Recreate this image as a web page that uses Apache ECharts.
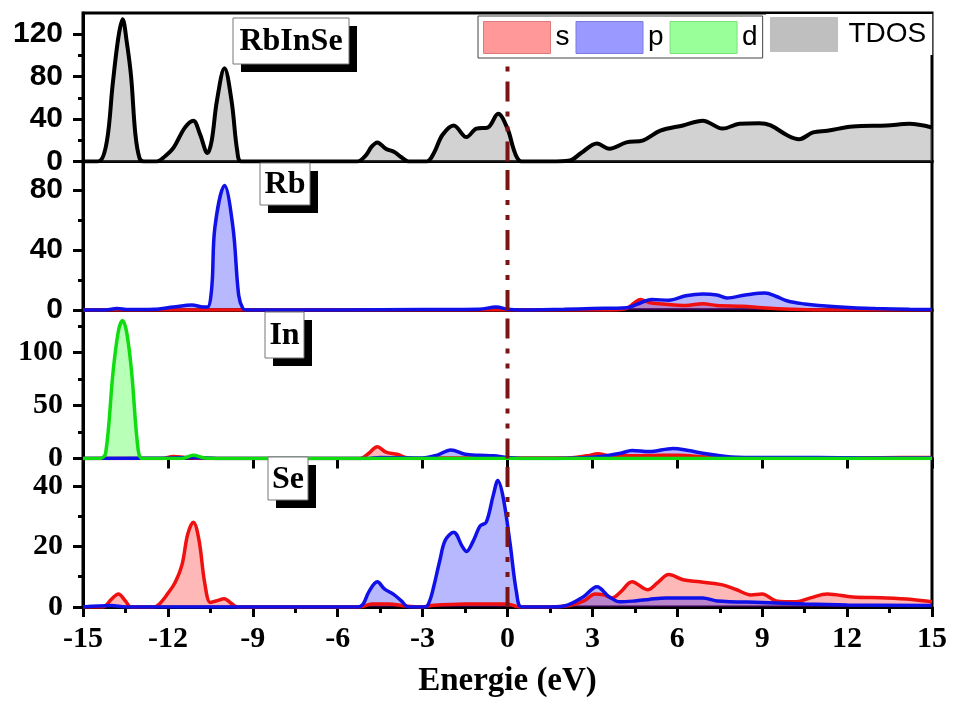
<!DOCTYPE html>
<html>
<head>
<meta charset="utf-8">
<script src="https://cdn.jsdelivr.net/npm/echarts@6/dist/echarts.min.js"></script>
<style>html,body{margin:0;padding:0;background:#fff;}#c{width:955px;height:702px;}</style>
</head>
<body>
<div id="c"></div>
<script>
// ---------- data (energy eV, DOS) ----------
const fermiLevel = 0;
const panelNames = ['RbInSe', 'Rb', 'In', 'Se'];

const tdos = [[-15,0],[-14.6,0],[-14.4,0.5],[-14.15,20],[-13.95,73],[-13.75,117],[-13.6,134],[-13.45,112],[-13.3,80],[-13.15,26],[-13.0,3],[-12.85,0],
  [-12.4,0],[-12.1,5],[-11.8,13],[-11.4,32],[-11.1,38.5],[-10.87,26],[-10.6,8],[-10.45,20],[-10.27,57],[-10.0,88],[-9.75,57],[-9.55,10],[-9.4,0],
  [-5.3,0],[-5.0,6],[-4.8,14],[-4.6,18],[-4.3,12],[-4.0,9],[-3.75,4],[-3.5,0],
  [-2.85,0],[-2.6,8],[-2.3,25],[-1.9,34],[-1.45,23],[-1.1,31],[-0.7,32],[-0.33,45],[0.0,31],[0.2,13],[0.35,3],[0.5,0],
  [1.5,0],[2.2,1],[2.6,8],[3.16,17],[3.6,12],[4.2,18],[4.8,20],[5.4,29],[6.2,34],[6.9,38.5],[7.6,31],[8.2,35.5],[8.9,36],[9.3,34],[9.9,24.5],[10.3,21],[10.8,27.5],[11.3,29],[12.2,33],[13.4,34],[14.2,35.5],[15,32]];

const rbS = [[-15,0],[3.5,0],[4.2,1],[4.5,5],[4.7,7],[5.0,5],[5.5,4],[6.3,3],[6.9,4.2],[7.4,3],[8.3,2.5],[9,1.5],[10,0.5],[11,0],[15,0]];
const rbP = [[-15,0],[-14.2,0],[-13.8,1],[-13.4,0.3],[-12.5,0.5],[-11.8,2],[-11.15,3.3],[-10.75,2],[-10.6,2],[-10.45,15],[-10.34,55],[-10.0,83],[-9.7,55],[-9.5,10],[-9.35,1],[-9.2,0],
  [-6,0],[-3,0.3],[-1,0.5],[-0.4,2],[0,0.5],[0.5,0],[2,0.5],[3,1],[4.2,1.5],[4.6,4],[5.1,7],[5.7,6.5],[6.3,9.5],[6.9,10.7],[7.4,10],[7.75,8],[8.4,10],[9.1,11.3],[9.5,9],[9.9,6],[10.5,4],[11,3],[12.2,1.5],[13,1],[14.2,0.5],[15,0.3]];

const inS = [[-15,0],[-12.2,0],[-11.8,2],[-11.4,1],[-10.8,0],[-5.2,0],[-4.9,5],[-4.6,11],[-4.3,6],[-3.9,4],[-3.6,1],[-3.2,0],[-2.5,0.5],[-1,0.5],[0,0.5],[2,0.5],[2.8,2.5],[3.2,4.5],[3.6,2.5],[4.5,2.5],[5.5,3],[6,3],[7,1.5],[8,0.5],[10,0.3],[12,0.5],[14,1],[15,1]];
const inP = [[-15,0],[-12,0.5],[-11.2,1],[-10,0],[-5,0],[-4.5,1],[-3,0.5],[-2.5,3],[-2.0,8],[-1.5,4],[-1.0,3],[-0.5,2.5],[0,1],[0.5,0],[2.5,0.5],[3.3,2],[4,5],[4.4,7.5],[5.0,6.5],[5.85,9.5],[6.4,7.5],[6.9,5],[7.4,3],[7.9,1.5],[9,1],[11,1],[13,0.5],[15,0.5]];
const inD = [[-15,0],[-14.4,0],[-14.2,5],[-13.94,81],[-13.75,120],[-13.6,130],[-13.45,118],[-13.28,81],[-13.05,8],[-12.9,0],[-11.5,0],[-11.1,3],[-10.7,0.5],[-10,0],[15,0]];

const seS = [[-15,0],[-14.3,0],[-14.0,2.5],[-13.75,4.3],[-13.5,2],[-13.3,0],[-12.5,0],[-12.3,1],[-12.0,4.5],[-11.75,8],[-11.5,14],[-11.3,24],[-11.1,28],[-10.9,22],[-10.7,8],[-10.5,1.5],[-10.3,2],[-10.0,2.7],[-9.8,1.5],[-9.55,0],
  [-5.2,0],[-4.8,1],[-4.2,1],[-3.6,0.3],[-3,0],[-2.7,0.5],[-1.5,1],[-0.5,1],[0,1],[0.4,0],[1.5,0],[2.2,0.5],[2.7,2],[3.1,4.3],[3.4,4],[3.7,3],[4.0,5],[4.4,8.3],[4.95,5.7],[5.3,8],[5.7,10.7],[6.2,9],[6.8,8.3],[7.6,7.3],[8.1,5.7],[8.6,4],[9.0,4.3],[9.5,2],[10.2,1.7],[10.7,3],[11.3,4.3],[12.2,3.3],[13.4,3],[14.3,2.5],[15,1.7]];
const seP = [[-15,0],[-14,0.5],[-13.5,0],[-5.3,0],[-5.1,1],[-4.9,5],[-4.6,8.3],[-4.35,6],[-4.0,4],[-3.75,2],[-3.5,0],[-2.9,0],[-2.75,2],[-2.6,7],[-2.4,15],[-2.2,22],[-1.9,24.7],[-1.6,20],[-1.45,18.3],[-1.2,22],[-0.97,26.7],[-0.75,28],[-0.5,37],[-0.34,41.7],[-0.15,36],[0.09,21],[0.32,4.7],[0.5,0],
  [1.5,0],[2.0,0.3],[2.67,3.3],[3.16,6.7],[3.6,3.3],[3.97,1.7],[4.5,2],[5.0,2.5],[5.6,3],[6.3,3],[6.9,3],[7.4,2],[9,1.5],[10.5,1],[12,0.7],[15,0.5]];

const yMax = [140, 99, 140, 49];
const yMajor = [[0,40,80,120],[0,40,80],[0,50,100],[0,20,40]];
const yMinor = [[20,60,100],[20,60],[25,75,125],[10,30]];

// ---------- layout ----------
const L = 83, W = 849, T0 = 13, H = 148.5;
const grids = [0,1,2,3].map(i => ({left: L, top: T0 + i*H, width: W, height: H, show: true, borderColor: '#000', borderWidth: 3, backgroundColor: 'transparent'}));

const sansLbl = {fontFamily: '"Liberation Sans", Arial', fontWeight: 'bold', fontSize: 30, color: '#000'};
const serifLbl = {fontFamily: '"Liberation Serif", "Times New Roman"', fontWeight: 'bold', fontSize: 30, color: '#000'};

const xAxes = [0,1,2,3].map(i => ({
  type: 'value', gridIndex: i, min: -15, max: 15, interval: 3,
  axisLine: {show: true, onZero: false, lineStyle: {color: '#000', width: 3}},
  axisTick: {show: i >= 2, inside: false, length: 10, lineStyle: {color: '#000', width: 3}},
  minorTick: {show: i === 3, splitNumber: 2, length: 6, lineStyle: {color: '#000', width: 3}},
  axisLabel: Object.assign({show: i === 3, margin: 17, formatter: v => String(v)}, serifLbl),
  splitLine: {show: false},
  name: i === 3 ? 'Energie (eV)' : '',
  nameLocation: 'middle', nameGap: 58,
  nameTextStyle: {fontFamily: '"Liberation Serif", "Times New Roman"', fontWeight: 'bold', fontSize: 33, color: '#000'}
}));

const yAxes = [];
[0,1,2,3].forEach(i => {
  const lbl = i < 2 ? sansLbl : serifLbl;
  yAxes.push({
    type: 'value', gridIndex: i, min: 0, max: yMax[i], position: 'left',
    axisLine: {show: true, onZero: false, lineStyle: {color: '#000', width: 3}},
    axisTick: {show: true, length: 10, customValues: yMajor[i], lineStyle: {color: '#000', width: 3}},
    axisLabel: Object.assign({show: true, margin: 20, customValues: yMajor[i]}, lbl),
    splitLine: {show: false}
  });
  yAxes.push({
    type: 'value', gridIndex: i, min: 0, max: yMax[i], position: 'left',
    axisLine: {show: false, onZero: false},
    axisTick: {show: true, length: 5, customValues: yMinor[i], lineStyle: {color: '#000', width: 3}},
    axisLabel: {show: false},
    splitLine: {show: false}
  });
});

const COL = {
  s: {line: '#F01010', fill: 'rgba(255,0,0,0.4)'},
  p: {line: '#1010E8', fill: 'rgba(0,0,255,0.4)'},
  d: {line: '#10DD10', fill: 'rgba(0,255,0,0.4)'},
  TDOS: {line: '#000000', fill: 'rgba(128,128,128,0.5)'}
};
function mk(name, data, gi) {
  return {
    type: 'line', name: name, data: data, xAxisIndex: gi, yAxisIndex: 2*gi,
    smooth: 0.35, symbol: 'none', clip: true,
    lineStyle: {color: COL[name].line, width: name === 'TDOS' ? 4 : 3.5},
    itemStyle: {color: COL[name].line},
    areaStyle: {color: COL[name].fill, origin: 'start'}
  };
}
function fermi(gi) {
  return {
    type: 'line', name: 'Ef', silent: true, xAxisIndex: gi, yAxisIndex: 2*gi,
    data: [[fermiLevel, 0], [fermiLevel, yMax[gi]]], symbol: 'none', z: 5,
    lineStyle: {color: '#7B1414', width: 4, type: [20, 10, 5, 10, 5, 10]}
  };
}
const series = [
  mk('TDOS', tdos, 0),
  mk('s', rbS, 1), mk('p', rbP, 1),
  mk('s', inS, 2), mk('p', inP, 2), mk('d', inD, 2),
  mk('s', seS, 3), mk('p', seP, 3),
  fermi(0), fermi(1), fermi(2), fermi(3)
];

// ---------- panel labels ----------
const boxes = [
  {x: 233, y: 18, w: 116, h: 46},
  {x: 260, y: 163, w: 50, h: 42},
  {x: 265, y: 312, w: 39, h: 46},
  {x: 268, y: 457, w: 40, h: 43}
];
const graphic = [];
boxes.forEach((b, i) => {
  graphic.push({type: 'rect', z: 100, shape: {x: b.x + 8, y: b.y + 8, width: b.w, height: b.h}, style: {fill: '#000'}});
  graphic.push({type: 'rect', z: 101, shape: {x: b.x, y: b.y, width: b.w, height: b.h}, style: {fill: '#fff', stroke: '#777', lineWidth: 1}});
  graphic.push({type: 'text', z: 102, x: b.x + b.w/2, y: b.y + b.h/2 + 1,
    style: {text: panelNames[i], font: 'bold 32px "Liberation Serif", "Times New Roman"', fill: '#000', align: 'center', verticalAlign: 'middle'}});
});

const legendText = {fontFamily: '"Liberation Sans", Arial', fontSize: 28, color: '#000'};
const option = {
  animation: false,
  backgroundColor: '#fff',
  grid: grids,
  xAxis: xAxes,
  yAxis: yAxes,
  legend: [
    {
      data: [
        {name: 's', itemStyle: {color: '#FF9999', borderColor: '#E07A7A', borderWidth: 1}},
        {name: 'p', itemStyle: {color: '#9999FF', borderColor: '#7A7AE0', borderWidth: 1}},
        {name: 'd', itemStyle: {color: '#99FF99', borderColor: '#7AE07A', borderWidth: 1}}
      ],
      icon: 'rect', left: 478, top: 16, itemWidth: 67, itemHeight: 32, itemGap: 6,
      padding: [5, 5, 4, 5], borderColor: '#444', borderWidth: 1, backgroundColor: '#fff',
      textStyle: legendText, selectedMode: false, z: 50
    },
    {
      data: [{name: 'TDOS', itemStyle: {color: '#BFBFBF', borderColor: '#BFBFBF', borderWidth: 1}}],
      icon: 'rect', left: 766, top: 14, itemWidth: 67, itemHeight: 34, itemGap: 6,
      padding: [3, 6, 3, 4], backgroundColor: '#fff',
      textStyle: Object.assign({padding: [0, 0, 0, 6]}, legendText), selectedMode: false, z: 50
    }
  ],
  graphic: graphic,
  series: series
};
const chart = echarts.init(document.getElementById('c'), null, {renderer: 'canvas'});
chart.setOption(option);
</script>
</body>
</html>
